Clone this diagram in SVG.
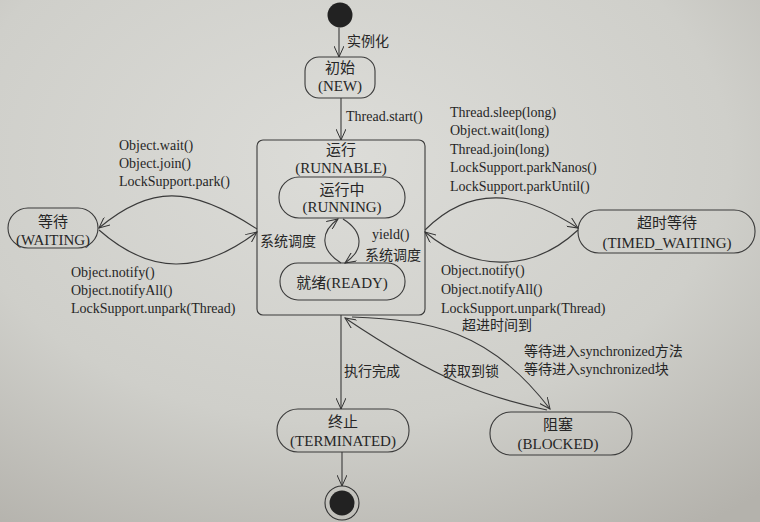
<svg xmlns="http://www.w3.org/2000/svg" width="760" height="522" viewBox="0 0 760 522">
  <defs>
    <radialGradient id="paper" cx="0.45" cy="0.3" r="0.85">
      <stop offset="0" stop-color="#dcdcd8"/>
      <stop offset="0.6" stop-color="#cfcfca"/>
      <stop offset="1" stop-color="#b4b2ac"/>
    </radialGradient>
    <marker id="arrow" viewBox="0 0 12 10" refX="11" refY="5" markerWidth="12" markerHeight="10" markerUnits="userSpaceOnUse" orient="auto">
      <path d="M0,0 L11,5 L0,10" fill="none" stroke="#333" stroke-width="1"/>
    </marker>
    <style>
      .box { fill: none; stroke: #3a3a3a; stroke-width: 1.1; }
      .edge { fill: none; stroke: #3a3a3a; stroke-width: 1.1; marker-end: url(#arrow); }
      text { font-family: "Liberation Serif", "Noto Sans CJK SC", serif; font-size: 14px; fill: #262626; }
      .c { text-anchor: middle; font-size: 15px; }
    </style>
  </defs>

  <rect width="760" height="522" fill="url(#paper)"/>

  <!-- pseudo states -->
  <g id="start">
    <circle cx="340" cy="15" r="12.5" fill="#222"/>
  </g>
  <g id="end">
    <circle cx="342" cy="503" r="17" fill="none" stroke="#333" stroke-width="1.1"/>
    <circle cx="342" cy="503" r="12.5" fill="#222"/>
  </g>

  <!-- states -->
  <g id="new">
    <rect class="box" x="305" y="57" width="70" height="41" rx="14"/>
    <text class="c" x="340" y="73">初始</text>
    <text class="c" x="340" y="91">(NEW)</text>
  </g>

  <g id="runnable">
    <rect class="box" x="257" y="140" width="168" height="175" rx="6"/>
    <text class="c" x="341" y="155">运行</text>
    <text class="c" x="341" y="173">(RUNNABLE)</text>
  </g>

  <g id="running">
    <rect class="box" x="279" y="177" width="126" height="41" rx="20"/>
    <text class="c" x="342" y="195">运行中</text>
    <text class="c" x="342" y="212">(RUNNING)</text>
  </g>

  <g id="ready">
    <rect class="box" x="280" y="263" width="125" height="37" rx="18"/>
    <text class="c" x="342" y="288">就绪(READY)</text>
  </g>

  <g id="waiting">
    <rect class="box" x="8" y="208" width="90" height="40" rx="20"/>
    <text class="c" x="53" y="227">等待</text>
    <text class="c" x="53" y="245">(WAITING)</text>
  </g>

  <g id="timed-waiting">
    <rect class="box" x="578" y="210" width="177" height="43" rx="21"/>
    <text class="c" x="667" y="228">超时等待</text>
    <text class="c" x="667" y="248">(TIMED_WAITING)</text>
  </g>

  <g id="terminated">
    <rect class="box" x="277" y="409" width="132" height="43" rx="21"/>
    <text class="c" x="343" y="427">终止</text>
    <text class="c" x="343" y="446">(TERMINATED)</text>
  </g>

  <g id="blocked">
    <rect class="box" x="490" y="412" width="142" height="43" rx="21"/>
    <text class="c" x="558" y="430">阻塞</text>
    <text class="c" x="558" y="449">(BLOCKED)</text>
  </g>

  <!-- transitions -->
  <g id="connectors">
    <path class="edge" d="M339 27.5 L339 57"/>
    <path class="edge" d="M341 98 L341 140"/>
    <path class="edge" d="M341 315 L341 409"/>
    <path class="edge" d="M342 452 L342 486"/>

    <!-- RUNNING <-> READY -->
    <path class="edge" d="M341 263 C 320 250, 320 232, 338 219"/>
    <path class="edge" d="M343 219 C 364 232, 364 250, 345 263"/>

    <!-- RUNNABLE <-> WAITING -->
    <path class="edge" d="M257 229 C 190 185, 150 185, 99 228"/>
    <path class="edge" d="M99 230 C 150 275, 200 275, 257 232"/>

    <!-- RUNNABLE <-> TIMED_WAITING -->
    <path class="edge" d="M425 230 C 470 185, 520 190, 578 228"/>
    <path class="edge" d="M578 230 C 530 275, 470 270, 425 232"/>

    <!-- RUNNABLE <-> BLOCKED -->
    <path class="edge" d="M352 317 C 430 320, 490 330, 550 409"/>
    <path class="edge" d="M547 410 C 490 398, 440 382, 345 318"/>
  </g>

  <!-- transition labels -->
  <g id="labels">
    <text x="347" y="46">实例化</text>
    <text x="346" y="121">Thread.start()</text>

    <text x="260" y="246">系统调度</text>
    <text x="372" y="239">yield()</text>
    <text x="365" y="260">系统调度</text>

    <text x="119" y="150">Object.wait()</text>
    <text x="119" y="168">Object.join()</text>
    <text x="119" y="186">LockSupport.park()</text>

    <text x="71" y="277">Object.notify()</text>
    <text x="71" y="295">Object.notifyAll()</text>
    <text x="71" y="313">LockSupport.unpark(Thread)</text>

    <text x="450" y="117">Thread.sleep(long)</text>
    <text x="450" y="135">Object.wait(long)</text>
    <text x="450" y="154">Thread.join(long)</text>
    <text x="450" y="172">LockSupport.parkNanos()</text>
    <text x="450" y="191">LockSupport.parkUntil()</text>

    <text x="441" y="275">Object.notify()</text>
    <text x="441" y="294">Object.notifyAll()</text>
    <text x="441" y="313">LockSupport.unpark(Thread)</text>

    <text x="462" y="330">超进时间到</text>
    <text x="524" y="356">等待进入synchronized方法</text>
    <text x="524" y="374">等待进入synchronized块</text>
    <text x="443" y="376">获取到锁</text>
    <text x="344" y="376">执行完成</text>
  </g>
</svg>
